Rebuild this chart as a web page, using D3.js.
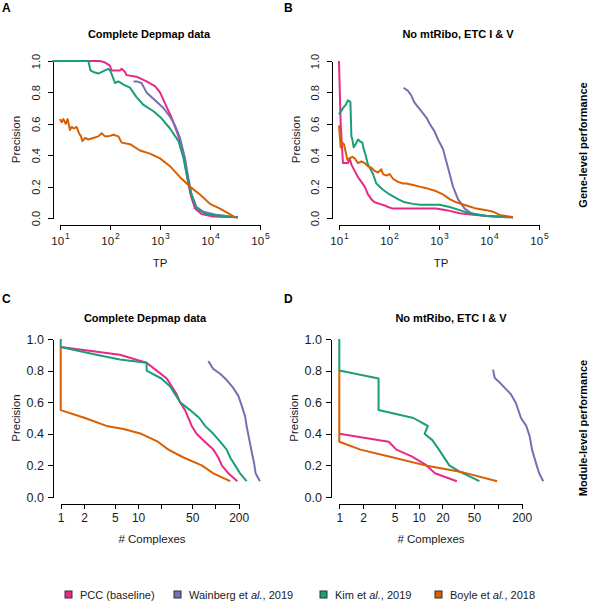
<!DOCTYPE html>
<html>
<head>
<meta charset="utf-8">
<script src="https://cdn.jsdelivr.net/npm/d3@7"></script>
<style>
  html, body { margin: 0; padding: 0; background: #fff; }
  svg { display: block; font-family: "Liberation Sans", Arial, Helvetica, sans-serif; }
  .axis path, .axis line { stroke: #000; stroke-width: 1; fill: none; shape-rendering: crispEdges; }
  .axis text { font-size: 11px; fill: #1a1a1a; }
</style>
</head>
<body>
<svg id="chart" width="589" height="603"></svg>
<script>
// ---------------- DATA ----------------
const seriesNames = ["PCC (baseline)", "Wainberg et al., 2019", "Kim et al., 2019", "Boyle et al., 2018"];
const seriesColors = ["#e7298a", "#7570b3", "#1b9e77", "#d95f02"];

const tpTicks = [10, 100, 1000, 10000, 100000];
const precisionTicks = [0, 0.2, 0.4, 0.6, 0.8, 1.0];
const complexTicks = [1, 2, 5, 10, 20, 50, 100, 200];
const complexLabelsC = [1, 2, 5, 10, 50, 200];
const complexLabelsD = [1, 2, 5, 10, 20, 50, 200];

const panelTitles = ["Complete Depmap data", "No mtRibo, ETC I & V", "Complete Depmap data", "No mtRibo, ETC I & V"];
const rowLabels = ["Gene-level performance", "Module-level performance"];

// Panel A: gene-level, complete data  [TP, precision]
const A_pcc = [[7.1,1.0],[63,1.0],[80,0.99],[100,0.97],[107,0.94],[158,0.94],[171,0.95],[200,0.93],[214,0.91],[339,0.90],[537,0.87],[794,0.84],[1000,0.80],[1259,0.73],[1698,0.64],[2344,0.52],[2951,0.40],[3548,0.25],[4074,0.15],[5012,0.06],[6761,0.025],[11482,0.01],[33884,0.005],[36308,0.004]];
const A_wainberg = [[295,0.87],[340,0.87],[427,0.86],[537,0.80],[794,0.75],[1175,0.70],[1585,0.645],[1995,0.59],[2512,0.51],[3162,0.38],[3715,0.25],[4266,0.15],[5370,0.07],[7413,0.04],[13490,0.02],[33884,0.005],[36308,0.004]];
const A_kim = [[7.1,1.0],[36.9,1.0],[40.7,0.94],[46.4,0.93],[58.5,0.92],[79.4,0.94],[92.7,0.95],[100,0.94],[107,0.92],[126,0.86],[147,0.87],[186,0.85],[251,0.83],[339,0.77],[468,0.72],[741,0.68],[1072,0.635],[1585,0.57],[2344,0.49],[2951,0.38],[3548,0.25],[4266,0.15],[5370,0.06],[8511,0.025],[18621,0.01],[36308,0.005]];
const A_boyle = [[10,0.63],[10.8,0.61],[11.7,0.63],[13,0.60],[14.2,0.63],[15.8,0.56],[17.1,0.58],[19,0.57],[21.5,0.58],[24,0.54],[26.3,0.52],[28,0.49],[31.6,0.51],[36.9,0.50],[46.4,0.51],[58.5,0.52],[68,0.54],[79.4,0.52],[92.7,0.52],[117,0.53],[147,0.52],[171,0.48],[251,0.47],[398,0.43],[631,0.41],[1000,0.38],[1585,0.33],[2512,0.26],[3981,0.20],[6310,0.15],[10000,0.09],[15849,0.06],[23442,0.03],[29512,0.01],[31000,0.005]];

// Panel B: gene-level, no mtRibo / ETC I & V
const B_pcc = [[10,1.0],[10.8,0.6],[12,0.35],[15.1,0.35],[16.3,0.38],[17.7,0.34],[20.6,0.30],[24,0.26],[28,0.23],[32.6,0.20],[38,0.15],[44.3,0.12],[51.7,0.10],[65,0.09],[81.9,0.08],[95.5,0.07],[120,0.06],[302,0.06],[885,0.06],[1402,0.05],[2590,0.03],[4786,0.02],[12023,0.01],[30200,0.005]];
const B_wainberg = [[196,0.83],[240,0.81],[280,0.78],[316,0.74],[352,0.72],[443,0.68],[558,0.64],[651,0.60],[819,0.55],[955,0.50],[1202,0.44],[1402,0.36],[1634,0.28],[1905,0.20],[2399,0.12],[3260,0.06],[4436,0.03],[7586,0.015],[22230,0.005],[30200,0.004]];
const B_kim = [[10,0.66],[12,0.70],[13.6,0.72],[15.1,0.75],[16.9,0.74],[17.7,0.52],[18.5,0.50],[19.7,0.45],[21.5,0.47],[24,0.50],[25.9,0.49],[29.3,0.48],[31.1,0.44],[34.1,0.40],[38,0.34],[47.9,0.28],[55.8,0.22],[75.9,0.18],[103,0.15],[151,0.12],[206,0.10],[302,0.09],[410,0.085],[1030,0.085],[1634,0.07],[2590,0.05],[4102,0.03],[8851,0.015],[30200,0.005]];
const B_boyle = [[10,0.59],[10.8,0.45],[11.7,0.48],[12.6,0.47],[13.6,0.42],[14.7,0.37],[16.3,0.38],[18.5,0.39],[20.6,0.38],[24,0.35],[28,0.36],[32.6,0.35],[38,0.33],[44.3,0.32],[51.7,0.30],[60.3,0.29],[70.3,0.31],[75.9,0.28],[88.5,0.27],[103,0.28],[120,0.25],[151,0.23],[191,0.22],[222,0.22],[302,0.21],[410,0.20],[558,0.19],[885,0.17],[1202,0.15],[1634,0.12],[2223,0.10],[3524,0.08],[5585,0.06],[8851,0.05],[12023,0.04],[16331,0.02],[30200,0.005]];

// Panel C: module-level, complete data  [# complexes, precision]
const C_pcc = [[1,0.95],[5.8,0.90],[12.9,0.85],[17.4,0.80],[23.5,0.75],[27.2,0.70],[31.6,0.65],[34.9,0.60],[40.5,0.55],[49.4,0.45],[57,0.40],[73,0.35],[94,0.30],[109,0.25],[121,0.20],[147,0.15],[192,0.10]];
const C_wainberg = [[81,0.86],[94,0.81],[115,0.78],[140,0.74],[170,0.69],[198,0.64],[218,0.58],[242,0.51],[253,0.45],[275,0.36],[296,0.28],[316,0.215],[331,0.15],[376,0.10]];
const C_kim = [[1,1.0],[1,0.95],[2.9,0.90],[5.8,0.87],[12.9,0.85],[12.9,0.80],[20,0.75],[26,0.70],[35,0.60],[47,0.55],[62,0.50],[73.5,0.45],[94,0.40],[115,0.35],[140,0.30],[155,0.25],[180,0.20],[208,0.15],[253,0.10]];
const C_boyle = [[1,0.95],[1,0.55],[2.06,0.50],[3.9,0.45],[6.5,0.43],[11,0.40],[18,0.35],[24.7,0.30],[38.6,0.25],[66.6,0.20],[94,0.15],[155,0.10]];

// Panel D: module-level, no mtRibo / ETC I & V
const D_pcc = [[1,0.40],[4.2,0.35],[5.25,0.30],[8.2,0.257],[12.2,0.205],[16.1,0.15],[30.4,0.10]];
const D_wainberg = [[87,0.806],[91.5,0.753],[103,0.73],[146,0.65],[169,0.595],[196,0.50],[228,0.45],[252,0.385],[270,0.30],[307,0.205],[332,0.15],[374,0.10]];
const D_kim = [[1,1.0],[1,0.80],[3.13,0.75],[3.13,0.55],[8.6,0.50],[11.0,0.47],[13.1,0.45],[11.9,0.40],[14.9,0.36],[18.1,0.30],[24.4,0.20],[32.9,0.16],[58.5,0.10]];
const D_boyle = [[1,0.80],[1,0.35],[1.85,0.30],[4.5,0.253],[12.2,0.20],[36.3,0.156],[98,0.10]];

// ---------------- LAYOUT ----------------
const svg = d3.select("#chart");

const panels = [
  { letter: "A", lx: 2, ly: 12, title: panelTitles[0], tx: 149, ty: 38, type: "tp",
    domain: [10, 100000], x0: 60, x1: 260, yTop: 61, yBot: 218, xAxisY: 225, yAxisX: 53,
    xLabel: "TP", xlx: 160, xly: 267, ylx: 20, series: [A_pcc, A_wainberg, A_kim, A_boyle] },
  { letter: "B", lx: 284, ly: 12, title: panelTitles[1], tx: 458, ty: 38, type: "tp",
    domain: [10, 100000], x0: 339, x1: 539, yTop: 61, yBot: 218, xAxisY: 225, yAxisX: 332,
    xLabel: "TP", xlx: 441, xly: 267, ylx: 300, series: [B_pcc, B_wainberg, B_kim, B_boyle] },
  { letter: "C", lx: 2, ly: 303, title: panelTitles[2], tx: 145, ty: 322, type: "cx", labels: complexLabelsC,
    domain: [1, 200], x0: 60.7, x1: 238.7, yTop: 339, yBot: 497, xAxisY: 504, yAxisX: 53,
    xLabel: "# Complexes", xlx: 152, xly: 543, ylx: 20, series: [C_pcc, C_wainberg, C_kim, C_boyle] },
  { letter: "D", lx: 284, ly: 303, title: panelTitles[3], tx: 451, ty: 322, type: "cx", labels: complexLabelsD,
    domain: [1, 200], x0: 339.3, x1: 521.7, yTop: 339, yBot: 497, xAxisY: 504, yAxisX: 331,
    xLabel: "# Complexes", xlx: 431, xly: 543, ylx: 298, series: [D_pcc, D_wainberg, D_kim, D_boyle] }
];

panels.forEach(p => {
  const g = svg.append("g");
  const x = d3.scaleLog().domain(p.domain).range([p.x0, p.x1]);
  const y = d3.scaleLinear().domain([0, 1]).range([p.yBot, p.yTop]);

  g.append("text").attr("x", p.lx).attr("y", p.ly)
    .attr("font-size", 12).attr("font-weight", "bold").attr("fill", "#000").text(p.letter);
  g.append("text").attr("x", p.tx).attr("y", p.ty).attr("text-anchor", "middle")
    .attr("font-size", 11).attr("font-weight", "bold").attr("fill", "#000").text(p.title);

  // x axis
  const xTicks = p.type === "tp" ? tpTicks : complexTicks;
  const xAxis = d3.axisBottom(x).tickValues(xTicks).tickSize(5).tickSizeOuter(0).tickPadding(3)
    .tickFormat(d => p.type === "tp" ? "" : (p.labels.includes(d) ? String(d) : ""));
  const xg = g.append("g").attr("class", "axis").attr("transform", `translate(0,${p.xAxisY})`).call(xAxis);
  if (p.type === "tp") {
    xg.selectAll(".tick text").remove();
    xg.selectAll(".tick").append("text")
      .attr("y", 20).attr("text-anchor", "middle").attr("fill", "#1a1a1a")
      .style("font-size", "11.5px")
      .each(function(d) {
        const t = d3.select(this);
        t.append("tspan").text("10");
        t.append("tspan").attr("dy", -6).attr("dx", 1).style("font-size", "8.5px").text(Math.round(Math.log10(d)));
      });
  } else {
    xg.selectAll(".tick text").attr("dy", "0.71em").attr("y", 9).style("font-size", "12px");
  }

  // y axis
  const yAxis = d3.axisLeft(y).tickValues(precisionTicks).tickSize(5).tickSizeOuter(0)
    .tickPadding(p.type === "tp" ? 3 : 4)
    .tickFormat(d3.format(".1f"));
  const yg = g.append("g").attr("class", "axis").attr("transform", `translate(${p.yAxisX},0)`).call(yAxis);
  if (p.type === "tp") {
    yg.selectAll(".tick text")
      .attr("transform", "rotate(-90)")
      .attr("x", 0).attr("y", -13).attr("dy", 0)
      .attr("text-anchor", "middle");
  } else {
    yg.selectAll(".tick text").style("font-size", "12.5px");
  }

  // axis titles
  g.append("text").attr("x", p.xlx).attr("y", p.xly).attr("text-anchor", "middle")
    .attr("font-size", 11.5).attr("fill", "#1a1a1a").text(p.xLabel);
  const ym = (p.yTop + p.yBot) / 2;
  g.append("text").attr("transform", `translate(${p.ylx},${ym}) rotate(-90)`)
    .attr("text-anchor", "middle").attr("font-size", 11.5).attr("fill", "#1a1a1a").text("Precision");

  // lines
  const line = d3.line().x(d => x(d[0])).y(d => y(d[1]));
  p.series.forEach((s, i) => {
    g.append("path").datum(s).attr("d", line)
      .attr("fill", "none").attr("stroke", seriesColors[i]).attr("stroke-width", 2)
      .attr("stroke-linejoin", "round");
  });
});

// row labels on the right
[[145, rowLabels[0]], [428, rowLabels[1]]].forEach(([cy, label]) => {
  svg.append("text").attr("transform", `translate(587,${cy}) rotate(-90)`)
    .attr("text-anchor", "middle").attr("font-size", 11).attr("font-weight", "bold")
    .attr("fill", "#000").text(label);
});

// legend
const legendX = [65, 174, 320, 435];
const legend = svg.append("g");
seriesNames.forEach((name, i) => {
  legend.append("rect").attr("x", legendX[i]).attr("y", 591).attr("width", 7).attr("height", 7)
    .attr("fill", seriesColors[i]).attr("stroke", "#333").attr("stroke-width", 1);
  const t = legend.append("text").attr("x", legendX[i] + 15).attr("y", 599)
    .attr("font-size", 11).attr("fill", "#1a1a1a");
  const m = name.match(/^(.*?)(al\.)(.*)$/);
  if (m) {
    t.append("tspan").text(m[1]);
    t.append("tspan").attr("font-style", "italic").text(m[2]);
    t.append("tspan").text(m[3]);
  } else {
    t.text(name);
  }
});
</script>
</body>
</html>
